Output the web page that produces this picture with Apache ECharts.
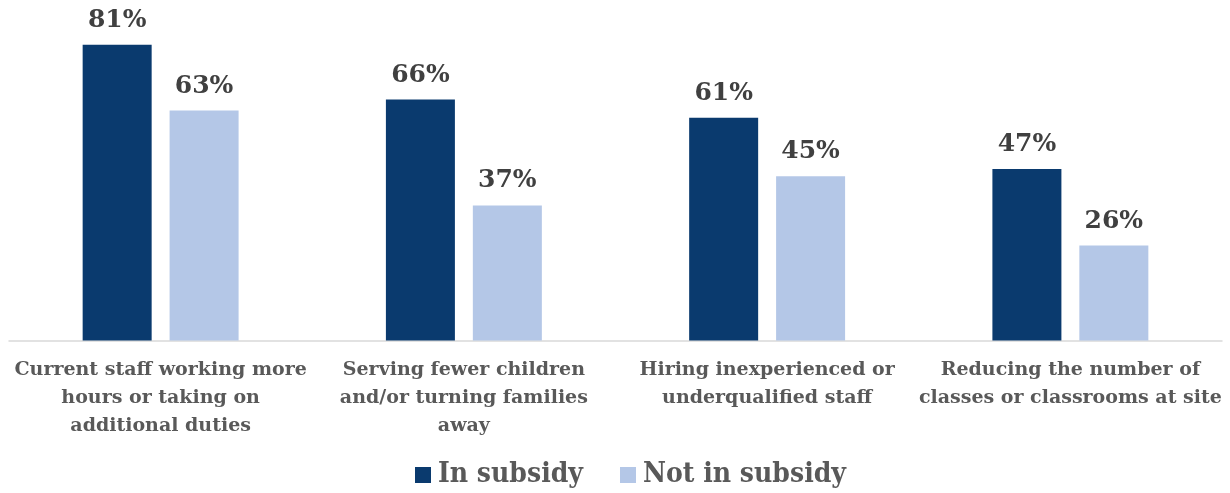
<!DOCTYPE html>
<html>
<head>
<meta charset="utf-8">
<script src="https://cdn.jsdelivr.net/npm/echarts@6/dist/echarts.min.js"></script>
<style>
  html, body { margin: 0; padding: 0; background: #fff; }
  #chart { width: 1230px; height: 493px; }
</style>
</head>
<body>
<div id="chart"></div>
<script>
const categories = [
  'Current staff working more\nhours or taking on\nadditional duties',
  'Serving fewer children\nand/or turning families\naway',
  'Hiring inexperienced or\nunderqualified staff',
  'Reducing the number of\nclasses or classrooms at site'
];
const seriesNames = ['In subsidy', 'Not in subsidy'];
const inSubsidy = [81, 66, 61, 47];
const notInSubsidy = [63, 37, 45, 26];

const SERIF = '"DejaVu Serif", serif';
const SERIF_NARROW = '"DejaVu Serif Condensed", "DejaVu Serif", serif';
const colors = ['#0A3A6E', '#B4C7E7'];

const chart = echarts.init(document.getElementById('chart'));
const labelStyle = {
  show: true,
  position: 'top',
  distance: 12,
  formatter: '{c}%',
  fontFamily: SERIF,
  fontWeight: 'bold',
  fontSize: 25,
  color: '#404040'
};
chart.setOption({
  animation: false,
  color: colors,
  grid: { left: 9, right: 8, top: 12, bottom: 152.5, containLabel: false },
  legend: {
    top: 456,
    left: 410,
    itemWidth: 16,
    itemHeight: 16,
    itemGap: 37,
    icon: 'rect',
    textStyle: { fontFamily: SERIF_NARROW, fontWeight: 'bold', fontSize: 28, color: '#595959', padding: [0, 0, 0, 2] },
    data: seriesNames
  },
  xAxis: {
    type: 'category',
    data: categories,
    axisLine: { lineStyle: { color: '#D9D9D9', width: 1.5 } },
    axisTick: { show: false },
    axisLabel: {
      interval: 0,
      margin: 16,
      fontFamily: SERIF,
      fontWeight: 'bold',
      fontSize: 19,
      lineHeight: 28,
      color: '#595959'
    }
  },
  yAxis: {
    type: 'value',
    min: 0,
    max: 90,
    show: false,
    splitLine: { show: false }
  },
  series: [
    { name: seriesNames[0], type: 'bar', data: inSubsidy, barWidth: 69, barGap: '26%', label: labelStyle },
    { name: seriesNames[1], type: 'bar', data: notInSubsidy, barWidth: 69, barGap: '26%', label: labelStyle }
  ]
});
</script>
</body>
</html>
